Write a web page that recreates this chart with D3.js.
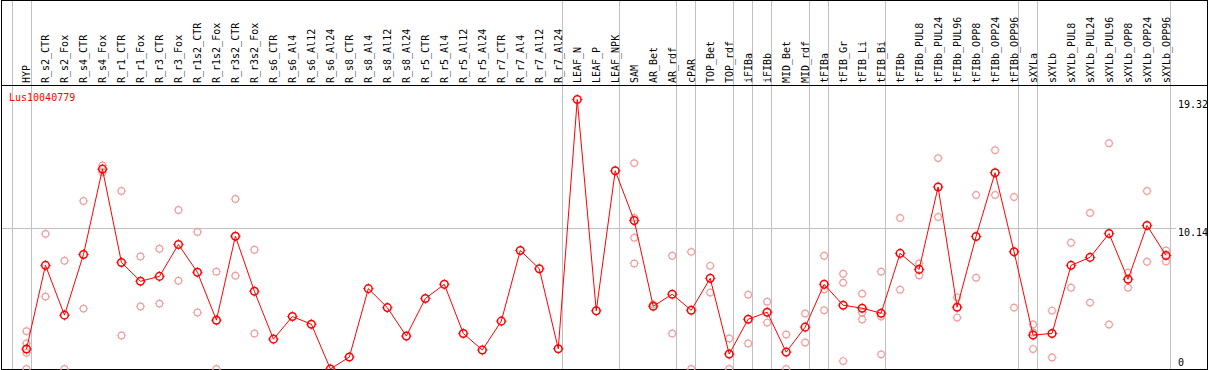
<html>
<head>
<script src="https://d3js.org/d3.v7.min.js"></script>
<style>
  body { margin: 0; background: #fff; }
  text { font-family: "DejaVu Sans Mono", monospace; font-size: 10px; }
</style>
</head>
<body>
<div id="chart"></div>
<script>
// categories along the top
var categories = ["HYP","R_s2_CTR","R_s2_Fox","R_s4_CTR","R_s4_Fox","R_r1_CTR","R_r1_Fox","R_r3_CTR","R_r3_Fox",
  "R_r1s2_CTR","R_r1s2_Fox","R_r3s2_CTR","R_r3s2_Fox","R_s6_CTR","R_s6_Al4","R_s6_Al12","R_s6_Al24",
  "R_s8_CTR","R_s8_Al4","R_s8_Al12","R_s8_Al24","R_r5_CTR","R_r5_Al4","R_r5_Al12","R_r5_Al24",
  "R_r7_CTR","R_r7_Al4","R_r7_Al12","R_r7_Al24","LEAF_N","LEAF_P","LEAF_NPK","SAM","AR_Bet","AR_rdf",
  "cPAR","TOP_Bet","TOP_rdf","iFIBa","iFIBb","MID_Bet","MID_rdf","tFIBa","tFIB_Gr","tFIB_Li","tFIB_Bi",
  "tFIBb","tFIBb_PUL8","tFIBb_PUL24","tFIBb_PUL96","tFIBb_OPP8","tFIBb_OPP24","tFIBb_OPP96",
  "sXYLa","sXYLb","sXYLb_PUL8","sXYLb_PUL24","sXYLb_PUL96","sXYLb_OPP8","sXYLb_OPP24","sXYLb_OPP96"];

// mean values (red line)
var meanValues = [1.43,7.43,3.86,8.21,14.33,7.64,6.29,6.64,8.93,6.93,3.5,9.52,5.57,2.14,3.76,3.21,0,
  0.86,5.76,4.4,2.36,5.05,6.07,2.55,1.36,3.43,8.5,7.19,1.45,19.32,4.17,14.21,10.64,4.5,5.36,
  4.21,6.5,1.07,3.57,4.07,1.21,3.0,6.07,4.57,4.36,4.0,8.29,7.14,13.05,4.43,9.5,14.07,8.4,
  2.43,2.55,7.43,8.0,9.71,6.43,10.29,8.14];

// replicate values (pink circles)
var replicates = [[2.71,1.84,1.16,0],[9.69,5.19],[7.76,0],[12.05,4.33],[14.6,14.1],[12.76,2.4],[8.07,4.48],
  [8.62,4.69],[11.4,6.33],[9.83,4.05],[6.98,0],[12.19,6.69],[8.55,2.55],[],[],[],[],
  [],[],[],[],[],[],[],[],[],[],[],[],[],[],[],[14.76,10.84,9.41,7.57],[4.64],[8.12,2.55],
  [8.4,0],[7.4,5.48],[2.19,0],[5.33,1.83],[4.83,3.33],[2.48,0],[3.98,1.9],[8.12,5.71,4.21],
  [6.83,6.19,0.57],[5.4,4.05,3.55],[6.98,3.76,1.05],[10.83,5.69],[7.57,6.71],[15.12,10.9],
  [5.14,3.69],[12.48,6.55],[15.69,12.48],[12.33,4.4],[3.19,2.62,1.43],[4.19,0.83],[9.05,5.83],
  [11.19,4.76],[16.19,3.19],[6.9,5.83],[12.76,7.69],[8.5,7.71]];

// group separators drawn after these category indices (-1 = before first)
var groupEnds = [-1,0,28,31,34,35,37,38,39,41,42,45,52,53,60];
var yTicks = [0, 10.14, 19.32];
var geneName = "Lus10040779";

var W = 1209, H = 370, headerBottom = 85, plotBottom = 369;

var svg = d3.select("#chart").append("svg")
  .attr("width", W).attr("height", H);

var x = d3.scalePoint().domain(categories).range([26.5, 1166]);
var step = x.step();
var y = d3.scaleLinear().domain([0, 19.32]).range([plotBottom, 99.5]);

// separators
svg.selectAll(".sep").data(groupEnds).enter().append("line")
  .attr("x1", function(i){ return Math.round(x(categories[0]) + step * i + 4) + 0.5; })
  .attr("x2", function(i){ return Math.round(x(categories[0]) + step * i + 4) + 0.5; })
  .attr("y1", 0).attr("y2", plotBottom)
  .attr("stroke", "#c0c0c0").attr("stroke-width", 1);

// horizontal gridline at middle tick
svg.append("line")
  .attr("x1", 2).attr("x2", 1176)
  .attr("y1", Math.round(y(yTicks[1])) + 0.5).attr("y2", Math.round(y(yTicks[1])) + 0.5)
  .attr("stroke", "#c0c0c0");

// frame
svg.append("rect").attr("x", 1.5).attr("y", 0.5).attr("width", W - 3).attr("height", plotBottom)
  .attr("fill", "none").attr("stroke", "#000");
svg.append("line").attr("x1", 1).attr("x2", W - 1)
  .attr("y1", headerBottom + 0.5).attr("y2", headerBottom + 0.5).attr("stroke", "#000");

// header labels
svg.selectAll(".lab").data(categories).enter().append("text")
  .attr("transform", function(d){ return "translate(" + (x(d) + 3.5) + "," + (headerBottom - 2) + ") rotate(-90)"; })
  .attr("fill", "#000")
  .text(function(d){ return d; });

// y labels on right
svg.selectAll(".yl").data(yTicks).enter().append("text")
  .attr("x", 1178)
  .attr("y", function(d){ return Math.min(y(d) + 8, 366); })
  .attr("fill", "#000")
  .text(function(d){ return d; });

// gene name
svg.append("text").attr("x", 9).attr("y", 101).attr("fill", "#ff0000").text(geneName);

function marker(g, cx, cy, r, color, sw) {
  g.append("circle").attr("cx", cx).attr("cy", cy).attr("r", r)
    .attr("fill", "none").attr("stroke", color).attr("stroke-width", sw);
  var n = r + sw / 2 + 0.8;
  [[0, -1], [0, 1], [-1, 0], [1, 0]].forEach(function(v){
    g.append("line")
      .attr("x1", cx + v[0] * r).attr("y1", cy + v[1] * r)
      .attr("x2", cx + v[0] * n).attr("y2", cy + v[1] * n)
      .attr("stroke", color).attr("stroke-width", 0.8);
  });
}

// replicates
var repG = svg.append("g");
replicates.forEach(function(arr, i){
  arr.forEach(function(v){
    marker(repG, x(categories[i]), y(v), 3.3, "#f0a0a0", 1.2);
  });
});

// mean line
var line = d3.line()
  .x(function(d, i){ return x(categories[i]); })
  .y(function(d){ return y(d); });
svg.append("path").datum(meanValues)
  .attr("d", line).attr("fill", "none").attr("stroke", "#ff0000").attr("stroke-width", 1);

var meanG = svg.append("g");
meanValues.forEach(function(v, i){
  marker(meanG, x(categories[i]), y(v), 3.8, "#ff0000", 1.5);
});
</script>
</body>
</html>
